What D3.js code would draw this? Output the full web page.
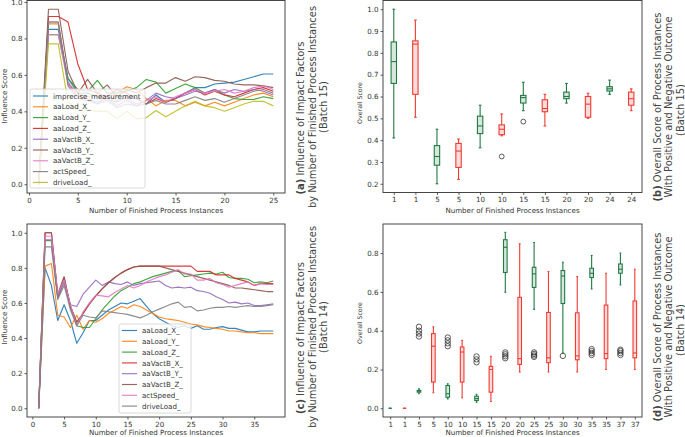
<!DOCTYPE html>
<html><head><meta charset="utf-8">
<script src="https://cdn.jsdelivr.net/npm/d3@7"></script>
<style>
body{margin:0;background:#fff;}
svg{display:block;font-family:"DejaVu Sans",sans-serif;}
</style></head><body>
<svg id="chart" width="685" height="437"></svg>
<script>
// ---------- Panel (a): Batch 15 influence lines ----------
const xA = d3.range(1, 26);
const namesA = ["imprecise_measurement","aaLoad_X_","aaLoad_Y_","aaLoad_Z_","aaVactB_X_","aaVactB_Y_","aaVactB_Z_","actSpeed_","driveLoad_"];
const a_imprecise = [0,0.85,0.85,0.58,0.50,0.50,0.48,0.47,0.45,0.48,0.47,0.44,0.49,0.45,0.47,0.50,0.53,0.53,0.55,0.555,0.56,0.575,0.59,0.605,0.605];
const a_aaLoadX   = [0,0.88,0.88,0.55,0.50,0.48,0.49,0.47,0.50,0.535,0.52,0.47,0.43,0.46,0.46,0.43,0.45,0.43,0.45,0.43,0.45,0.47,0.49,0.50,0.48];
const a_aaLoadY   = [0,0.82,0.82,0.58,0.52,0.51,0.57,0.50,0.50,0.51,0.53,0.575,0.56,0.50,0.525,0.55,0.53,0.50,0.52,0.49,0.47,0.465,0.465,0.48,0.47];
const a_aaLoadZ   = [0,0.92,0.92,0.89,0.66,0.52,0.50,0.48,0.52,0.50,0.47,0.44,0.47,0.45,0.47,0.50,0.52,0.49,0.51,0.49,0.48,0.50,0.52,0.53,0.51];
const a_aaVactBX  = [0,0.89,0.89,0.56,0.48,0.47,0.45,0.47,0.43,0.46,0.43,0.46,0.50,0.48,0.47,0.49,0.51,0.50,0.52,0.50,0.52,0.51,0.52,0.51,0.49];
const a_aaVactBY  = [0,0.96,0.96,0.62,0.50,0.575,0.50,0.545,0.48,0.52,0.50,0.53,0.555,0.555,0.585,0.565,0.59,0.585,0.57,0.565,0.55,0.545,0.545,0.54,0.53];
const a_aaVactBZ  = [0,0.82,0.82,0.55,0.48,0.47,0.44,0.49,0.46,0.47,0.44,0.46,0.48,0.45,0.48,0.50,0.52,0.50,0.51,0.52,0.50,0.51,0.53,0.54,0.52];
const a_actSpeed  = [0,0.89,0.89,0.54,0.47,0.46,0.44,0.46,0.42,0.44,0.43,0.44,0.46,0.44,0.44,0.46,0.48,0.46,0.47,0.45,0.47,0.49,0.51,0.52,0.50];
const a_driveLoad = [0,0.77,0.77,0.45,0.41,0.41,0.40,0.40,0.36,0.40,0.36,0.365,0.405,0.37,0.40,0.43,0.455,0.43,0.42,0.40,0.42,0.44,0.455,0.455,0.43];
const valuesA = [a_imprecise,a_aaLoadX,a_aaLoadY,a_aaLoadZ,a_aaVactBX,a_aaVactBY,a_aaVactBZ,a_actSpeed,a_driveLoad];
const xTicksA = [0,5,10,15,20,25];
const yTicksLines = [0,0.2,0.4,0.6,0.8,1.0];

// ---------- Panel (c): Batch 14 influence lines ----------
const xC = d3.range(1, 39);
const namesC = ["aaLoad_X_","aaLoad_Y_","aaLoad_Z_","aaVactB_X_","aaVactB_Y_","aaVactB_Z_","actSpeed_","driveLoad_"];
const c_aaLoadX  = [0,0.80,0.70,0.50,0.59,0.50,0.37,0.43,0.50,0.50,0.53,0.56,0.58,0.60,0.595,0.61,0.625,0.58,0.54,0.51,0.49,0.47,0.46,0.47,0.455,0.47,0.45,0.45,0.46,0.465,0.455,0.455,0.445,0.435,0.435,0.44,0.44,0.44];
const c_aaLoadY  = [0,0.81,0.825,0.53,0.52,0.46,0.53,0.45,0.50,0.49,0.51,0.54,0.56,0.58,0.57,0.59,0.58,0.56,0.54,0.52,0.51,0.505,0.50,0.49,0.48,0.475,0.465,0.46,0.455,0.45,0.44,0.44,0.435,0.43,0.43,0.425,0.425,0.425];
const c_aaLoadZ  = [0,0.955,0.955,0.63,0.72,0.58,0.47,0.46,0.46,0.51,0.56,0.60,0.64,0.67,0.69,0.71,0.72,0.735,0.75,0.76,0.77,0.78,0.785,0.75,0.755,0.76,0.765,0.77,0.765,0.775,0.745,0.74,0.74,0.735,0.715,0.72,0.715,0.725];
const c_aaVactBX = [0,1.0,1.0,0.64,0.745,0.58,0.49,0.54,0.595,0.64,0.68,0.715,0.745,0.77,0.79,0.805,0.81,0.81,0.81,0.81,0.81,0.81,0.81,0.81,0.81,0.78,0.78,0.78,0.76,0.76,0.76,0.74,0.73,0.72,0.70,0.71,0.71,0.71];
const c_aaVactBY = [0,0.96,0.96,0.63,0.72,0.59,0.58,0.65,0.69,0.73,0.70,0.72,0.71,0.705,0.72,0.70,0.71,0.715,0.72,0.725,0.70,0.685,0.69,0.685,0.69,0.67,0.665,0.655,0.635,0.62,0.60,0.605,0.595,0.60,0.585,0.585,0.59,0.595];
const c_aaVactBZ = [0,1.0,1.0,0.65,0.75,0.58,0.49,0.54,0.595,0.64,0.68,0.715,0.745,0.77,0.79,0.805,0.81,0.81,0.81,0.81,0.80,0.79,0.78,0.77,0.76,0.75,0.74,0.73,0.72,0.71,0.70,0.685,0.685,0.68,0.675,0.67,0.665,0.665];
const c_actSpeed = [0,0.98,0.98,0.65,0.73,0.59,0.47,0.55,0.60,0.645,0.64,0.635,0.66,0.68,0.70,0.685,0.70,0.72,0.735,0.75,0.76,0.775,0.79,0.765,0.765,0.73,0.73,0.74,0.715,0.705,0.69,0.70,0.71,0.72,0.70,0.71,0.705,0.705];
const c_driveLoad= [0,0.92,0.92,0.62,0.70,0.56,0.47,0.53,0.52,0.515,0.555,0.55,0.545,0.54,0.535,0.525,0.515,0.53,0.55,0.565,0.58,0.595,0.605,0.575,0.58,0.555,0.56,0.57,0.575,0.575,0.58,0.575,0.58,0.585,0.58,0.58,0.585,0.59];
const valuesC = [c_aaLoadX,c_aaLoadY,c_aaLoadZ,c_aaVactBX,c_aaVactBY,c_aaVactBZ,c_actSpeed,c_driveLoad];
const xTicksC = [0,5,10,15,20,25,30,35];

// ---------- Panel (b): Batch 15 boxplots [low, q1, median, q3, high] ----------
const labelsB = ["1","1","5","5","10","10","15","15","20","20","24","24"];
const statsB = [
  [0.41,0.66,0.76,0.85,1.00],[0.505,0.61,0.84,0.855,0.95],
  [0.20,0.285,0.325,0.375,0.45],[0.22,0.275,0.35,0.385,0.405],
  [0.365,0.43,0.465,0.51,0.56],[0.42,0.425,0.45,0.47,0.52],
  [0.535,0.57,0.595,0.605,0.665],[0.465,0.53,0.545,0.585,0.61],
  [0.57,0.59,0.60,0.62,0.66],[0.50,0.505,0.565,0.60,0.615],
  [0.61,0.625,0.635,0.645,0.675],[0.535,0.56,0.59,0.62,0.635]];
const outliersB = [[],[],[],[],[],[0.325],[0.485],[],[],[],[],[]];
const yTicksB = [0.2,0.3,0.4,0.5,0.6,0.7,0.8,0.9,1.0];

// ---------- Panel (d): Batch 14 boxplots ----------
const labelsD = ["1","1","5","5","10","10","15","15","20","20","25","25","30","30","35","35","37","37"];
const statsD = [
  [0,0,0,0,0],[0,0,0,0,0],
  [0.075,0.083,0.088,0.092,0.10],[0.08,0.135,0.32,0.385,0.42],
  [0.048,0.057,0.075,0.117,0.126],[0.054,0.135,0.29,0.316,0.35],
  [0.031,0.04,0.05,0.062,0.072],[0.035,0.083,0.20,0.216,0.268],
  [0.598,0.70,0.83,0.869,0.907],[0.187,0.226,0.256,0.572,0.848],
  [0.51,0.623,0.693,0.727,0.855],[0.187,0.235,0.26,0.494,0.705],
  [0.285,0.54,0.682,0.71,0.753],[0.187,0.25,0.27,0.492,0.679],
  [0.615,0.674,0.696,0.722,0.788],[0.20,0.256,0.282,0.532,0.696],
  [0.636,0.696,0.717,0.744,0.80],[0.20,0.26,0.285,0.553,0.717]];
const outliersD = [[],[],[0.37,0.385,0.40,0.42],[],[0.32,0.335,0.35,0.365],[],[0.237,0.252,0.267],[],
  [0.258,0.268,0.278,0.288],[],[0.265,0.272,0.28,0.288],[],[0.27],[],[0.275,0.285,0.295,0.305],[],[0.275,0.285,0.295,0.302],[]];
const yTicksD = [0.0,0.2,0.4,0.6,0.8];

// ---------- styling ----------
const tab10 = ["#1f77b4","#ff7f0e","#2ca02c","#d62728","#9467bd","#8c564b","#e377c2","#7f7f7f","#bcbd22"];
const GREEN = "#217a44", RED = "#ef3b32";
const FS = 7.1, TXT = "#333";
const svg = d3.select("#chart");

function styleAxis(g){
  g.select(".domain").remove();
  g.selectAll(".tick line").attr("stroke","#333").attr("stroke-width",0.8);
  g.selectAll(".tick text").attr("fill",TXT).style("font-size",FS+"px").style("font-family","DejaVu Sans");
}

function frame(x0,x1,y0,y1){
  svg.append("rect").attr("x",x0).attr("y",y0).attr("width",x1-x0).attr("height",y1-y0)
    .attr("fill","none").attr("stroke","#333").attr("stroke-width",0.9);
}

function vtext(x,yc,parts,size,color){
  const t = svg.append("text").attr("transform",`translate(${x},${yc}) rotate(-90)`)
    .attr("text-anchor","middle").attr("fill",color).style("font-size",size+"px");
  parts.forEach(p=>t.append("tspan").text(p.t).style("font-weight",p.b?"bold":"normal"));
}

function xlabel(xc,y,txt){
  svg.append("text").attr("x",xc).attr("y",y).attr("text-anchor","middle").attr("fill",TXT)
    .style("font-size",FS+"px").text(txt);
}

function linePanel(o){
  const x = d3.scaleLinear().domain(o.xdom).range([o.x0,o.x1]);
  const y = d3.scaleLinear().domain(o.ydom).range([o.y1,o.y0]);
  const clip = "clip"+o.id;
  svg.append("clipPath").attr("id",clip).append("rect").attr("x",o.x0).attr("y",o.y0).attr("width",o.x1-o.x0).attr("height",o.y1-o.y0);
  const g = svg.append("g").attr("clip-path",`url(#${clip})`);
  const line = d3.line().x((d,i)=>x(o.xs[i])).y(d=>y(d));
  o.values.forEach((v,i)=>{
    g.append("path").attr("d",line(v)).attr("fill","none").attr("stroke",tab10[i])
      .attr("stroke-width",1.15).attr("stroke-linejoin","round").attr("opacity",0.9);
  });
  svg.append("g").attr("transform",`translate(0,${o.y1})`)
    .call(d3.axisBottom(x).tickValues(o.xticks).tickFormat(d3.format("d")).tickSize(2.5).tickPadding(2)).call(styleAxis);
  svg.append("g").attr("transform",`translate(${o.x0},0)`)
    .call(d3.axisLeft(y).tickValues(yTicksLines).tickFormat(d3.format(".1f")).tickSize(2.5).tickPadding(2)).call(styleAxis);
  frame(o.x0,o.x1,o.y0,o.y1);
  // legend
  const L = o.legend;
  svg.append("rect").attr("x",L.x).attr("y",L.y).attr("width",L.w).attr("height",L.h).attr("rx",2)
    .attr("fill","#fff").attr("fill-opacity",0.8).attr("stroke","#d0d0d0").attr("stroke-width",0.8);
  o.names.forEach((n,i)=>{
    const yy = L.y + L.first + i*L.step;
    svg.append("line").attr("x1",L.x+L.s0).attr("x2",L.x+L.s1).attr("y1",yy).attr("y2",yy)
      .attr("stroke",tab10[i]).attr("stroke-width",1.15).attr("opacity",0.9);
    svg.append("text").attr("x",L.x+L.tx).attr("y",yy+2.6).attr("fill",TXT).style("font-size",FS+"px").text(n);
  });
}

function boxPanel(o){
  const n = o.stats.length;
  const x = d3.scaleLinear().domain([0.5,n+0.5]).range([o.x0,o.x1]);
  const y = d3.scaleLinear().domain(o.ydom).range([o.y1,o.y0]);
  const bw = (x(1.25)-x(1));
  o.stats.forEach((s,i)=>{
    const cx = x(i+1), col = i%2===0?GREEN:RED;
    const g = svg.append("g");
    g.append("line").attr("x1",cx).attr("x2",cx).attr("y1",y(s[0])).attr("y2",y(s[1])).attr("stroke",col).attr("stroke-width",1.1);
    g.append("line").attr("x1",cx).attr("x2",cx).attr("y1",y(s[3])).attr("y2",y(s[4])).attr("stroke",col).attr("stroke-width",1.1);
    [s[0],s[4]].forEach(v=>g.append("line").attr("x1",cx-bw/4).attr("x2",cx+bw/4).attr("y1",y(v)).attr("y2",y(v)).attr("stroke",col).attr("stroke-width",1.1));
    g.append("rect").attr("x",cx-bw/2).attr("y",y(s[3])).attr("width",bw).attr("height",Math.max(0,y(s[1])-y(s[3])))
      .attr("fill",col).attr("fill-opacity",0.18).attr("stroke",col).attr("stroke-width",1.1);
    g.append("line").attr("x1",cx-bw/2).attr("x2",cx+bw/2).attr("y1",y(s[2])).attr("y2",y(s[2])).attr("stroke",col).attr("stroke-width",1.1);
    o.outliers[i].forEach(v=>g.append("circle").attr("cx",cx).attr("cy",y(v)).attr("r",o.r)
      .attr("fill","none").attr("stroke","#333").attr("stroke-width",0.8));
  });
  svg.append("g").attr("transform",`translate(0,${o.y1})`)
    .call(d3.axisBottom(x).tickValues(d3.range(1,n+1)).tickFormat(d=>o.labels[d-1]).tickSize(2.5).tickPadding(2)).call(styleAxis);
  svg.append("g").attr("transform",`translate(${o.x0},0)`)
    .call(d3.axisLeft(y).tickValues(o.yticks).tickFormat(d3.format(".1f")).tickSize(2.5).tickPadding(2)).call(styleAxis);
  frame(o.x0,o.x1,o.y0,o.y1);
}

// (a)
linePanel({id:"a",xs:xA,values:valuesA,names:namesA,xdom:[-0.2,26.2],ydom:[-0.048,1.008],
  x0:27,x1:285,y0:0.5,y1:193,xticks:xTicksA,
  legend:{x:30,y:89,w:115,h:99,first:7,step:10.8,s0:3,s1:18,tx:23}});
xlabel(156,213,"Number of Finished Process Instances");
vtext(6.5,96,[{t:"Influence Score"}],FS,TXT);

// (c)
linePanel({id:"c",xs:xC,values:valuesC,names:namesC,xdom:[-0.85,39.85],ydom:[-0.05,1.05],
  x0:27,x1:285,y0:224,y1:417,xticks:xTicksC,
  legend:{x:119,y:324,w:72,h:89,first:6.5,step:10.8,s0:3,s1:18,tx:23}});
xlabel(156,435,"Number of Finished Process Instances");
vtext(6.5,317,[{t:"Influence Score"}],FS,TXT);

// (b)
boxPanel({stats:statsB,outliers:outliersB,labels:labelsB,ydom:[0.16,1.04],x0:383,x1:642,y0:0.5,y1:192.5,yticks:yTicksB,r:2.4});
xlabel(512.5,213,"Number of Finished Process Instances");
vtext(362,103,[{t:"Overall Score"}],6.25,TXT);

// (d)
boxPanel({stats:statsD,outliers:outliersD,labels:labelsD,ydom:[-0.045,0.95],x0:383,x1:642,y0:224,y1:417,yticks:yTicksD,r:2.7});
xlabel(512.5,435,"Number of Finished Process Instances");
vtext(362,323,[{t:"Overall Score"}],6.25,TXT);

// rotated captions
const CAP = 9.9, CAPC = "#444";
vtext(303.5,118,[{t:"(a)",b:true},{t:" Influence of Impact Factors"}],CAP,CAPC);
vtext(315.5,107,[{t:"by Number of Finished Process Instances"}],CAP,CAPC);
vtext(327,107,[{t:"(Batch 15)"}],CAP,CAPC);
vtext(660.5,107,[{t:"(b)",b:true},{t:" Overall Score of Process Instances"}],CAP,CAPC);
vtext(672,107,[{t:"With Positive and Negative Outcome"}],CAP,CAPC);
vtext(683.5,110,[{t:"(Batch 15)"}],CAP,CAPC);
vtext(303.5,338,[{t:"(c)",b:true},{t:" Influence of Impact Factors"}],CAP,CAPC);
vtext(315.5,327,[{t:"by Number of Finished Process Instances"}],CAP,CAPC);
vtext(327,327,[{t:"(Batch 14)"}],CAP,CAPC);
vtext(660.5,327,[{t:"(d)",b:true},{t:" Overall Score of Process Instances"}],CAP,CAPC);
vtext(672,327,[{t:"With Positive and Negative Outcome"}],CAP,CAPC);
vtext(683.5,330,[{t:"(Batch 14)"}],CAP,CAPC);
</script>
</body></html>
